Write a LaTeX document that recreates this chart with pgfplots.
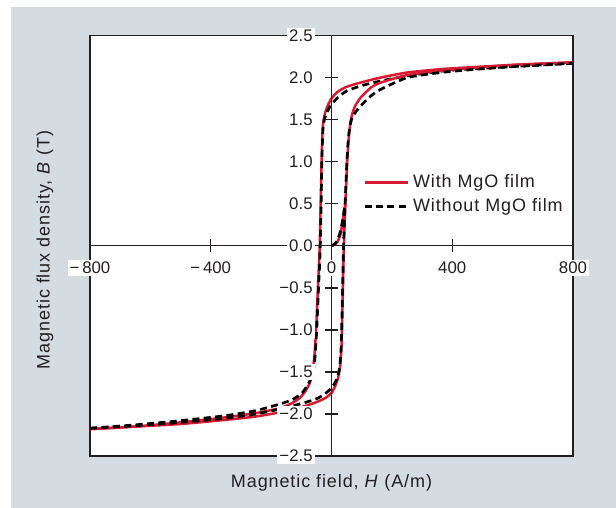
\documentclass[border=0pt]{standalone}
\usepackage{fontspec}
\setmainfont{Liberation Sans}
\newfontfamily\labfont[LetterSpace=5]{Liberation Sans}
\usepackage{pgfplots}
\pgfplotsset{compat=1.18}
\definecolor{bgray}{RGB}{212,220,225}
\definecolor{mgred}{RGB}{215,25,50}
\definecolor{frame}{RGB}{35,31,32}
\begin{document}
\begin{tikzpicture}
\useasboundingbox (-45pt,-26pt) rectangle (263pt,228pt);
\fill[bgray] (-39.5pt,-26pt) rectangle (263pt,224.5pt);
\begin{axis}[
  at={(0pt,0pt)}, anchor=south west,
  scale only axis, width=241.5pt, height=210.25pt,
  xmin=-800, xmax=800, ymin=-2.5, ymax=2.5,
  axis lines=middle,
  axis line style={-, line width=0.7pt, color=frame},
  axis on top=true,
  axis background/.style={fill=white, draw=frame, line width=0.9pt},
  hide obscured x ticks=false, hide obscured y ticks=false,
  xtick={-800,-400,0,400,800},
  xticklabels={−\,800,−\,400,0,400,800},
  ytick={-2.5,-2,-1.5,-1,-0.5,0,0.5,1,1.5,2,2.5},
  yticklabels={−2.5,−2.0,−1.5,−1.0,−0.5,0.0,0.5,1.0,1.5,2.0,2.5},
  tick align=center, major tick length=6.5pt,
  tick style={line width=0.7pt, color=frame},
  minor tick num=0,
  ticklabel style={font=\fontsize{8.4}{9}\selectfont, text=frame},
  yticklabel style={anchor=east, fill=white, inner sep=1pt, xshift=-5pt},
  xticklabel style={anchor=north, fill=white, inner sep=1pt, yshift=-3.5pt},
  legend style={at={(rel axis cs:0.565,0.622)}, anchor=west, draw=none, fill=none,
    inner sep=0pt, font=\labfont\fontsize{9}{10}\selectfont, text=frame, row sep=0pt},
  legend cell align=left,
  legend image code/.code={\draw[#1] (0pt,0pt) -- (21.5pt,0pt);},
]
% red: with MgO film
\addplot[mgred, line width=1.25pt, smooth, tension=0.35] coordinates {
(800,2.18)(600,2.15)(450,2.12)(362,2.10)(251,2.06)(163,2.00)(96,1.94)(50,1.89)(20,1.83)(0,1.75)(-12,1.67)(-22,1.57)(-28,1.45)(-31,1.25)(-34,0.8)(-39,0)(-45,-0.5)(-51,-1.0)(-56,-1.28)(-60,-1.42)(-65,-1.53)(-72,-1.63)(-85,-1.72)(-105,-1.81)(-135,-1.88)(-170,-1.93)(-250,-1.99)(-350,-2.04)(-500,-2.10)(-650,-2.15)(-800,-2.18)
};
\addlegendentry{With MgO film}
\addplot[black, line width=1.35pt, dash pattern=on 3.5pt off 2.2pt, smooth, tension=0.35] coordinates {
(800,2.17)(600,2.13)(450,2.10)(362,2.075)(251,2.02)(163,1.96)(96,1.90)(50,1.84)(20,1.76)(0,1.68)(-12,1.61)(-22,1.52)(-28,1.40)(-32,1.0)(-37,0)(-43,-0.5)(-49,-1.0)(-54,-1.3)(-58,-1.44)(-64,-1.54)(-72,-1.61)(-85,-1.69)(-100,-1.76)(-130,-1.83)(-169,-1.88)(-250,-1.96)(-350,-2.02)(-500,-2.08)(-650,-2.13)(-800,-2.17)
};
\addlegendentry{Without MgO film}
\addplot[mgred, line width=1.25pt, smooth, tension=0.35, forget plot] coordinates {
(-800,-2.18)(-650,-2.15)(-500,-2.12)(-350,-2.07)(-250,-2.03)(-170,-1.98)(-100,-1.92)(-50,-1.86)(-20,-1.81)(0,-1.75)(12,-1.67)(22,-1.57)(29,-1.42)(33,-1.2)(36,-0.8)(41,0)(46,0.5)(52,1.0)(57,1.28)(62,1.45)(68,1.56)(78,1.66)(96,1.76)(130,1.88)(163,1.94)(251,2.03)(362,2.08)(450,2.11)(600,2.15)(800,2.18)
};
\addplot[mgred, line width=1.25pt, smooth, tension=0.5, forget plot] coordinates {
(0,0)(10,0.01)(20,0.05)(30,0.14)(36,0.27)(42,0.42)(46,0.5)
};
\addplot[black, line width=1.35pt, dash pattern=on 3.5pt off 2.2pt, smooth, tension=0.35, forget plot] coordinates {
(-800,-2.17)(-650,-2.14)(-500,-2.10)(-350,-2.05)(-250,-2.0)(-170,-1.94)(-93,-1.87)(-50,-1.82)(-25,-1.77)(-5,-1.71)(8,-1.65)(19,-1.57)(27,-1.45)(32,-1.2)(35,-0.8)(40,0)(45,0.5)(51,1.0)(56,1.28)(61,1.42)(68,1.52)(80,1.59)(96,1.66)(130,1.78)(163,1.86)(251,2.0)(362,2.06)(450,2.09)(600,2.13)(800,2.17)
};
\addplot[black, line width=1.35pt, dash pattern=on 3.5pt off 2.2pt, smooth, tension=0.5, forget plot] coordinates {
(0,0)(10,0.02)(20,0.07)(30,0.18)(38,0.33)(44,0.48)
};
\end{axis}
\node[font=\labfont\fontsize{9}{10}\selectfont, text=frame] at (120.75pt,-13.5pt) {Magnetic field, \textit{H} (A/m)};
\node[font=\labfont\fontsize{9}{10}\selectfont, text=frame, rotate=90] at (-22.5pt,103pt) {Magnetic flux density, \textit{B} (T)};
\end{tikzpicture}
\end{document}
